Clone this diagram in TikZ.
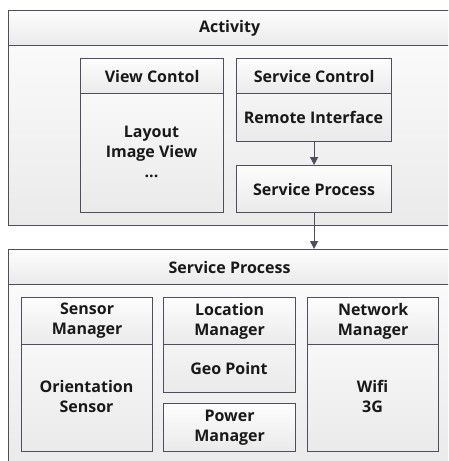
\documentclass[tikz,border=0pt]{standalone}
\usepackage{fontspec}
\setmainfont{Open Sans}
\usetikzlibrary{arrows.meta}
\definecolor{bordc}{HTML}{4E4E5C}
\definecolor{topc}{HTML}{FDFDFD}
\definecolor{botc}{HTML}{EAEAEA}
\newcommand{\lbl}{\fontsize{16}{20}\selectfont\bfseries}
\begin{document}
\begin{tikzpicture}[x=1pt,y=-1pt,
  box/.style={draw=bordc, line width=1.2pt, top color=topc, bottom color=botc,
    rectangle, inner sep=0pt, anchor=north west, align=center, font=\lbl, text=black!90},
  txt/.style={inner sep=0pt, align=center, font=\lbl, text=black!90},
  arr/.style={draw=bordc, line width=1.2pt, -{Triangle[width=8pt,length=8pt]}}]
\useasboundingbox (0,0) rectangle (448,461);
\fill[white] (0,0) rectangle (448,461);
\clip (0,0) rectangle (448,461);
% Activity
\node[box, minimum width=442pt, minimum height=215pt] (act) at (8,10) {};
\node[box, minimum width=442pt, minimum height=35pt] (actH) at (8,10) {Activity};
% View control
\node[box, minimum width=143pt, minimum height=154pt] (vc) at (80,58) {};
\node[box, minimum width=143pt, minimum height=35pt] (vcH) at (80,58) {View Contol};
\node[txt] (vcB) at (151.5,152) {Layout\\Image View\\...};
% Service control
\node[box, minimum width=155pt, minimum height=83pt] (sc) at (236,58) {};
\node[box, minimum width=155pt, minimum height=35pt] (scH) at (236,58) {Service Control};
\node[txt] (scB) at (313.5,117) {Remote Interface};
\node[box, minimum width=155pt, minimum height=47pt] (sp) at (236,165) {Service Process};
% Service Process outer
\node[box, minimum width=442pt, minimum height=216pt] (svc) at (8,249) {};
\node[box, minimum width=442pt, minimum height=35pt] (svcH) at (8,249) {Service Process};
% Sensor
\node[box, minimum width=131pt, minimum height=154pt] (sm) at (21,297) {};
\node[box, minimum width=131pt, minimum height=47pt] (smH) at (21,297) {Sensor\\Manager};
\node[txt] (smB) at (86.5,396) {Orientation\\Sensor};
% Location
\node[box, minimum width=132pt, minimum height=95pt] (lm) at (163,297) {};
\node[box, minimum width=132pt, minimum height=47pt] (lmH) at (163,297) {Location\\Manager};
\node[txt] (lmB) at (229,368) {Geo Point};
% Power
\node[box, minimum width=132pt, minimum height=48pt] (pm) at (163,403) {Power\\Manager};
% Network
\node[box, minimum width=131pt, minimum height=154pt] (nm) at (307,297) {};
\node[box, minimum width=131pt, minimum height=47pt] (nmH) at (307,297) {Network\\Manager};
\node[txt] (nmB) at (372.5,396) {Wifi\\3G};
% arrows
\draw[arr] (sc.south) -- (sp.north);
\draw[arr] (sp.south) -- (sp.south |- svc.north);
\end{tikzpicture}
\end{document}
